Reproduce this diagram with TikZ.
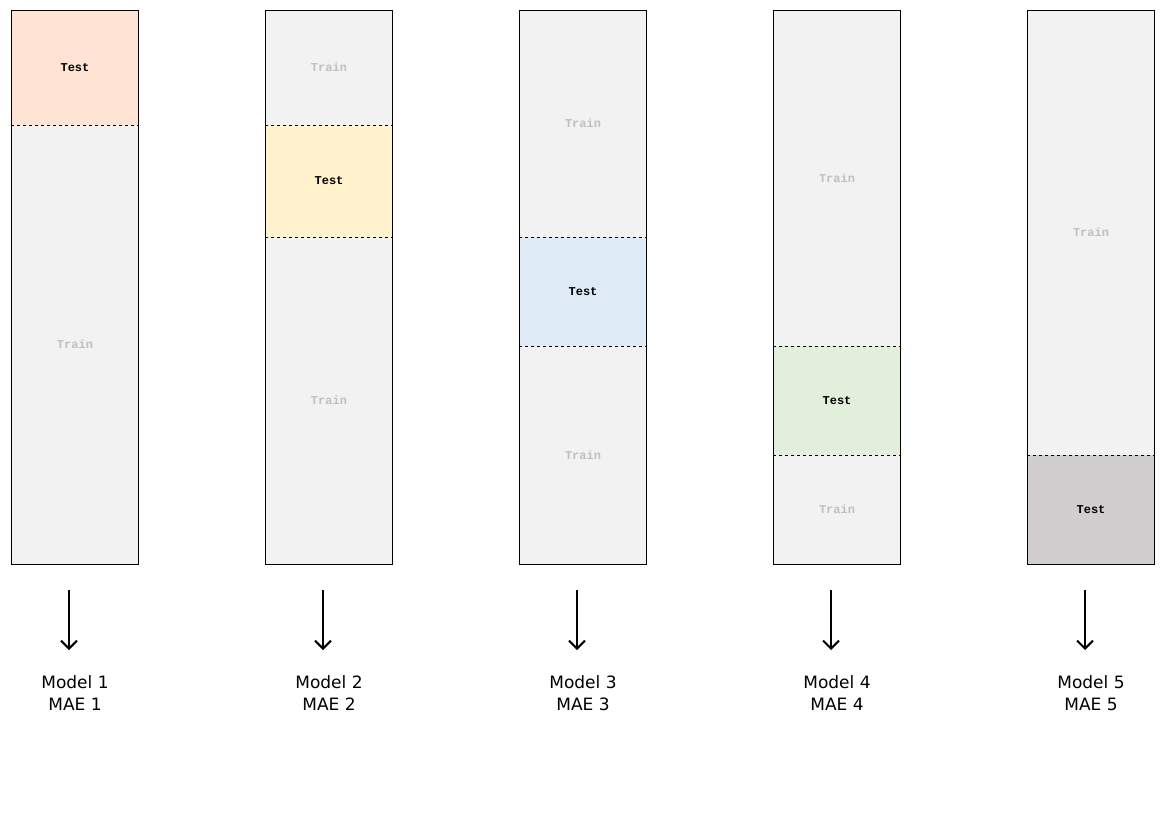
\documentclass[tikz,border=0pt]{standalone}
\usepackage{fontspec}
\usetikzlibrary{arrows.meta}
\setmainfont{DejaVu Sans}
\newfontfamily\monof{Liberation Mono}
\definecolor{trainc}{HTML}{F2F2F2}
\definecolor{traintxt}{HTML}{BFBFBF}
\definecolor{ta}{HTML}{FFE4D6}
\definecolor{tb}{HTML}{FFF2CC}
\definecolor{tc}{HTML}{DEEBF7}
\definecolor{td}{HTML}{E2EFDA}
\definecolor{te}{HTML}{D0CECE}
\begin{document}
\begin{tikzpicture}[x=1pt,y=-1pt,
  trainlbl/.style={font=\monof\bfseries\fontsize{12}{14}\selectfont,text=traintxt},
  testlbl/.style={font=\monof\bfseries\fontsize{12}{14}\selectfont,text=black},
  cut/.style={dashed,line width=0.9pt},
  captxt/.style={align=center,font=\fontsize{17}{22}\selectfont}]
\useasboundingbox (0,0) rectangle (1168,822);
\def\cuts{{10,125,237,346,455,564}}
\foreach \i/\c/\col in {0/11/ta,1/265/tb,2/519/tc,3/773/td,4/1027/te}{
  \pgfmathsetmacro\ya{\cuts[\i]}
  \pgfmathsetmacro\yb{\cuts[\i+1]}
  \pgfmathsetmacro\xm{\c+64}
  \fill[trainc] (\c,10) rectangle ++(127,554);
  \fill[\col] (\c,\ya) rectangle (\c+127,\yb);
  \node[testlbl] (t\i) at (\xm,{(\ya+\yb)/2}) {Test};
  \ifdim\ya pt>10pt
    \draw[cut] (\c,\ya) -- (\c+127,\ya);
    \node[trainlbl] (u\i) at (\xm,{(10+\ya)/2}) {Train};
  \fi
  \ifdim\yb pt<564pt
    \draw[cut] (\c,\yb) -- (\c+127,\yb);
    \node[trainlbl] (l\i) at (\xm,{(\yb+564)/2}) {Train};
  \fi
  \draw[line width=1pt] (\c,10) rectangle ++(127,554);
  \coordinate (s\i) at (\c+58,590);
  \coordinate (e\i) at (\c+58,650);
  \draw[line width=2pt,-{Straight Barb[length=8pt,width=16pt]}] (s\i) -- (e\i);
  \pgfmathtruncatemacro\n{\i+1}
  \node[captxt] (m\i) at (\xm,693) {Model \n\\MAE \n};
}
\end{tikzpicture}
\end{document}
